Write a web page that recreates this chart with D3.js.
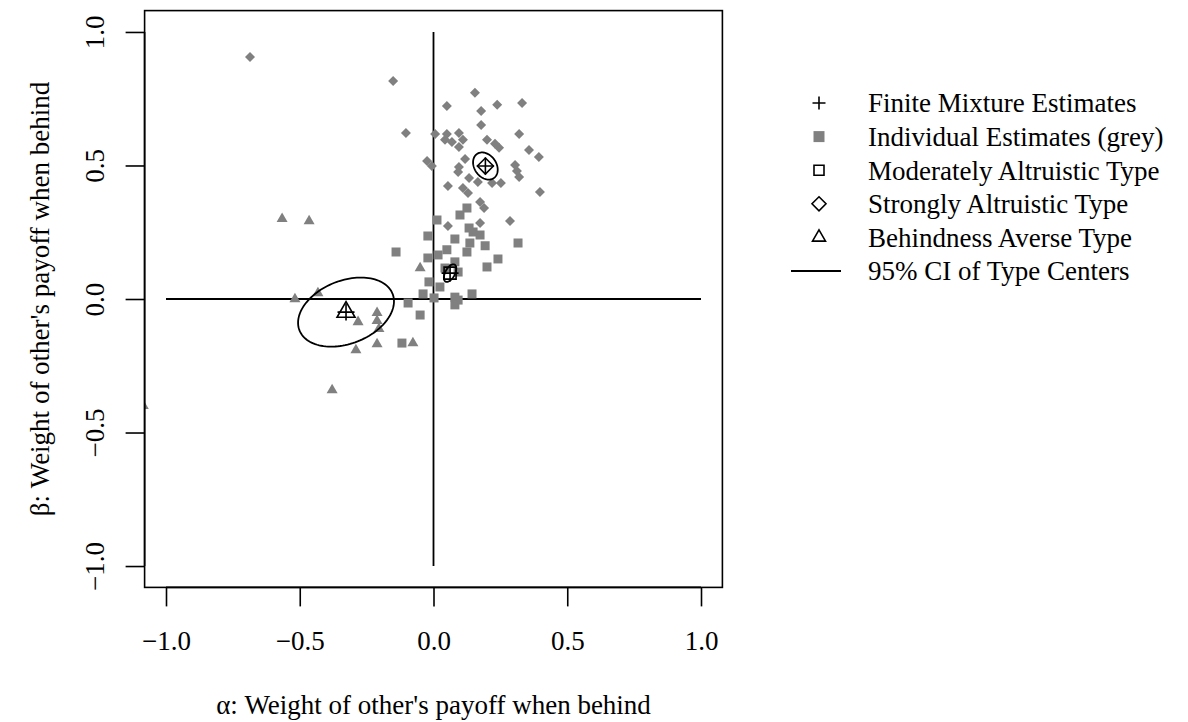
<!DOCTYPE html>
<html><head><meta charset="utf-8">
<script src="https://cdn.jsdelivr.net/npm/d3@7"></script>
<style>body{margin:0;background:#fff}svg text{font-family:"Liberation Serif","Times New Roman",serif;fill:#000}</style>
</head><body><svg id="c" width="1188" height="722"></svg>
<script>
// ---- data ----
const xTicks = [-1.0, -0.5, 0.0, 0.5, 1.0];
const yTicks = [-1.0, -0.5, 0.0, 0.5, 1.0];
const xTitle = "α: Weight of other's payoff when behind";
const yTitle = "β: Weight of other's payoff when behind";
// individual estimates, strongly altruistic (grey diamonds)
const strongX = [-0.686,-0.151,0.050,0.155,0.238,0.331,0.178,0.178,-0.103,0.006,0.050,0.095,0.043,0.069,0.110,0.095,0.320,0.200,0.230,0.245,0.357,0.394,-0.024,-0.006,0.118,0.095,0.305,0.312,0.320,0.133,0.166,0.219,0.252,0.054,0.110,0.129,0.398,0.174,0.189,0.174,0.054,0.286,0.092];
const strongY = [0.906,0.816,0.723,0.772,0.727,0.734,0.704,0.652,0.622,0.618,0.618,0.622,0.596,0.588,0.596,0.569,0.618,0.596,0.581,0.566,0.558,0.532,0.517,0.498,0.524,0.494,0.502,0.479,0.457,0.453,0.438,0.434,0.434,0.423,0.416,0.397,0.401,0.363,0.341,0.285,0.273,0.292,0.476];
// individual estimates, moderately altruistic (grey squares)
const modX = [0.013,-0.021,-0.140,0.099,0.125,0.133,0.080,0.174,0.125,0.193,0.316,0.241,0.200,-0.021,0.017,0.050,0.092,-0.017,0.024,-0.039,0.002,0.080,0.144,0.092,0.080,-0.095,-0.050,-0.118,0.148,0.136,0.043,0.080];
const modY = [0.296,0.236,0.176,0.315,0.341,0.266,0.225,0.240,0.176,0.199,0.210,0.150,0.120,0.154,0.165,0.184,0.101,0.064,0.045,0.019,0.004,0.007,0.019,-0.004,-0.022,-0.015,-0.060,-0.165,0.251,0.210,0.116,0.139];
// individual estimates, behindness averse (grey triangles)
const averseX = [-0.566,-0.465,-0.518,-0.432,-0.282,-0.211,-0.211,-0.204,-0.290,-0.211,-0.379,-1.085,-0.050,-0.077];
const averseY = [0.300,0.292,0.000,0.022,-0.086,-0.052,-0.082,-0.112,-0.191,-0.169,-0.341,-0.400,0.116,-0.165];
// finite mixture type centers
const typeNames = ["Moderately Altruistic Type","Strongly Altruistic Type","Behindness Averse Type"];
const centerX = [0.062, 0.194, -0.327];
const centerY = [0.097, 0.498, -0.049];
// 95% CI ellipses of type centers: semi-axes and angle (degrees)
const ciA = [0.036, 0.055, 0.187];
const ciB = [0.018, 0.041, 0.118];
const ciAngle = [62, -55, 21.5];
const legendLabels = ["Finite Mixture Estimates","Individual Estimates (grey)","Moderately Altruistic Type","Strongly Altruistic Type","Behindness Averse Type","95% CI of Type Centers"];

// ---- layout ----
const L = 144.6, R = 722.4, T = 10.6, B = 587.4;
const x = d3.scaleLinear().domain([-1.08, 1.08]).range([L, R]);
const y = d3.scaleLinear().domain([-1.08, 1.08]).range([B, T]);
const svg = d3.select("#c");
const grey = "#808080";
const fs = 27;
const fmt = v => (v < 0 ? "\u2212" : "") + Math.abs(v).toFixed(1);

svg.append("defs").append("clipPath").attr("id","clip").append("rect")
  .attr("x", L).attr("y", T).attr("width", R - L).attr("height", B - T);

// symbol paths
const sq = s => `M${-s/2},${-s/2}H${s/2}V${s/2}H${-s/2}Z`;
const dm = s => `M0,${-s/2}L${s/2},0L0,${s/2}L${-s/2},0Z`;
const tri = s => { const h = s*Math.sqrt(3)/2; return `M0,${-h*2/3}L${s/2},${h/3}L${-s/2},${h/3}Z`; };
const pl = s => `M${-s/2},0H${s/2}M0,${-s/2}V${s/2}`;

// cross lines
svg.append("line").attr("x1", x(-1)).attr("x2", x(1)).attr("y1", y(0)).attr("y2", y(0)).attr("stroke","#000").attr("stroke-width",1.8);
svg.append("line").attr("x1", x(0)).attr("x2", x(0)).attr("y1", y(-1)).attr("y2", y(1)).attr("stroke","#000").attr("stroke-width",1.8);

const pts = svg.append("g").attr("clip-path","url(#clip)");
function drawPts(xs, ys, pathFn, size) {
  pts.selectAll(null).data(xs.map((d,i)=>[d, ys[i]])).enter().append("path")
    .attr("transform", d => `translate(${x(d[0])},${y(d[1])})`)
    .attr("d", pathFn(size)).attr("fill", grey);
}
drawPts(strongX, strongY, dm, 10);
drawPts(modX, modY, sq, 9);
drawPts(averseX, averseY, tri, 11);

// ellipses
const eg = svg.append("g").attr("clip-path","url(#clip)");
const ang = d3.range(0, 361, 3).map(d => d * Math.PI / 180);
centerX.forEach((cx, i) => {
  const th = ciAngle[i] * Math.PI / 180;
  const line = d3.line().x(t => x(cx + ciA[i]*Math.cos(t)*Math.cos(th) - ciB[i]*Math.sin(t)*Math.sin(th)))
                        .y(t => y(centerY[i] + ciA[i]*Math.cos(t)*Math.sin(th) + ciB[i]*Math.sin(t)*Math.cos(th)));
  eg.append("path").attr("d", line(ang)).attr("fill","none").attr("stroke","#000").attr("stroke-width",1.8);
});

// centers
const centerSyms = [sq(12), dm(16), tri(18)];
centerX.forEach((cx, i) => {
  const g = svg.append("g").attr("transform", `translate(${x(cx)},${y(centerY[i])})`);
  g.append("path").attr("d", centerSyms[i]).attr("fill","none").attr("stroke","#000").attr("stroke-width",1.6);
  g.append("path").attr("d", pl(17)).attr("fill","none").attr("stroke","#000").attr("stroke-width",1.6);
});

// box
svg.append("rect").attr("x", L).attr("y", T).attr("width", R-L).attr("height", B-T).attr("fill","none").attr("stroke","#000").attr("stroke-width",1.6);

// axes
const xAxis = svg.append("g").attr("transform", `translate(0,${B})`)
  .call(d3.axisBottom(x).tickValues(xTicks).tickSize(19).tickFormat(fmt));
xAxis.select(".domain").attr("d", `M${x(-1)},0H${x(1)}`);
const yAxis = svg.append("g").attr("transform", `translate(${L},0)`)
  .call(d3.axisLeft(y).tickValues(yTicks).tickSize(19).tickFormat(fmt));
yAxis.select(".domain").attr("d", `M0,${y(-1)}V${y(1)}`);
[xAxis, yAxis].forEach(a => {
  a.selectAll("path,line").attr("stroke","#000").attr("stroke-width",1.6);
  a.selectAll("text").attr("font-size", fs).attr("font-family","Liberation Serif").attr("fill","#000");
});
xAxis.selectAll("text").attr("y", 43).attr("dy","0.71em");
yAxis.selectAll("text").attr("x", null).attr("dy", null)
  .attr("transform", "translate(-41,0) rotate(-90)").attr("x", 0).attr("y", 0).attr("text-anchor","middle");

svg.append("text").attr("x", (x(-1)+x(1))/2).attr("y", 714).attr("text-anchor","middle").attr("font-size", fs).text(xTitle);
svg.append("text").attr("transform", `translate(49,${(y(-1)+y(1))/2}) rotate(-90)`).attr("text-anchor","middle").attr("font-size", fs).text(yTitle);

// legend
const lx = 819, tx = 868, ly0 = 103, ldy = 33.6;
const lg = svg.append("g");
legendLabels.forEach((t, i) => {
  lg.append("text").attr("x", tx).attr("y", ly0 + i*ldy).attr("dy","0.35em").attr("font-size", fs).text(t);
});
const sym = (i) => lg.append("g").attr("transform", `translate(${lx},${ly0 + i*ldy})`);
sym(0).append("path").attr("d", pl(13)).attr("stroke","#000").attr("stroke-width",1.6).attr("fill","none");
sym(1).append("path").attr("d", sq(11)).attr("fill", grey);
sym(2).append("path").attr("d", sq(10)).attr("stroke","#000").attr("stroke-width",1.6).attr("fill","none");
sym(3).append("path").attr("d", dm(14)).attr("stroke","#000").attr("stroke-width",1.6).attr("fill","none");
sym(4).append("path").attr("d", tri(13)).attr("stroke","#000").attr("stroke-width",1.6).attr("fill","none");
sym(5).append("line").attr("x1",-28).attr("x2",22).attr("stroke","#000").attr("stroke-width",1.8);
</script></body></html>
